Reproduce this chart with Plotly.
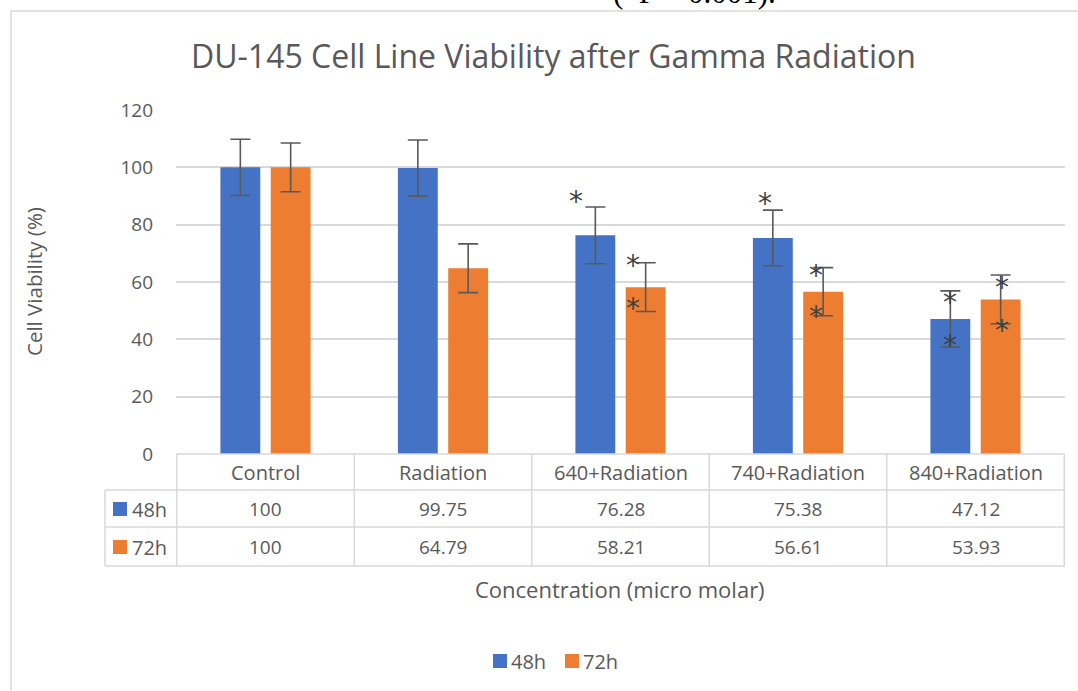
import plotly.graph_objects as go

# ---------------- data ----------------
categories = ["Control", "Radiation", "640+Radiation", "740+Radiation", "840+Radiation"]
series_names = ["48h", "72h"]
viability_48h = [100, 99.75, 76.28, 75.38, 47.12]
viability_72h = [100, 64.79, 58.21, 56.61, 53.93]
error_48h = [9.8, 9.8, 9.9, 9.7, 9.8]
error_72h = [8.5, 8.5, 8.5, 8.4, 8.5]
# significance asterisks: y value (in %) of each asterisk, per category
stars_48h = [[], [], [91.0], [90.3], [55.8, 40.8]]
stars_72h = [[], [], [68.4, 53.4], [64.9, 50.9], [61.0, 46.0]]
y_ticks = [0, 20, 40, 60, 80, 100, 120]

# ---------------- style ----------------
BLUE = "#4472C4"
ORANGE = "#ED7D31"
GRAY_TXT = "#595959"
GRID = "#d9d9d9"
FONT = "Open Sans"

W, H = 1078, 691
L, R, T, B = 176, 1065, 110, 454
PW, PH = R - L, B - T


def pxx(px):
    return (px - L) / PW


def pxy(py):
    return (B - py) / PH


def note(x, y, text, size=19, color=GRAY_TXT, xref="paper", yref="paper", **kw):
    d = dict(x=x, y=y, xref=xref, yref=yref, text=text, showarrow=False,
             xanchor="center", yanchor="middle",
             font=dict(family=FONT, size=size, color=color))
    d.update(kw)
    return d


fig = go.Figure()
colors = [BLUE, ORANGE]
vals = [viability_48h, viability_72h]
errs = [error_48h, error_72h]
for name, v, e, c in zip(series_names, vals, errs, colors):
    fig.add_trace(go.Bar(
        x=categories, y=v, name=name, marker=dict(color=c, line=dict(width=0)),
        error_y=dict(type="data", array=e, visible=True, color="#595959",
                     thickness=1.6, width=10),
        showlegend=False,
    ))

annotations = []
shapes = []

# asterisks
slot_px = 50.5
star_dx = [[0, 0, -19, -7.5, 0], [0, 0, -13, -7, 1]]
for si, stars in enumerate([stars_48h, stars_72h]):
    for ci, ys in enumerate(stars):
        for yv in ys:
            a = note(categories[ci], yv, "*", xref="x", yref="y",
                     xshift=(-slot_px / 2 if si == 0 else slot_px / 2) + star_dx[si][ci],
                     yshift=-8)
            a["font"] = dict(family="DejaVu Sans", size=28, color="#404040")
            annotations.append(a)

# data table
row_lines = [454, 490, 527, 566]
for i, yl in enumerate(row_lines):
    x0 = L if i == 0 else 105
    shapes.append(dict(type="line", xref="paper", yref="paper", x0=pxx(x0), x1=pxx(R),
                       y0=pxy(yl), y1=pxy(yl), line=dict(color=GRID, width=1.5)))
shapes.append(dict(type="line", xref="paper", yref="paper", x0=pxx(105), x1=pxx(105),
                   y0=pxy(490), y1=pxy(566), line=dict(color=GRID, width=1.5)))
for k in range(len(categories) + 1):
    shapes.append(dict(type="line", xref="x", yref="paper", x0=k - 0.5, x1=k - 0.5,
                       y0=pxy(454), y1=pxy(566), line=dict(color=GRID, width=1.5)))

row_centers = [472, 509, 547]
for ci, cat in enumerate(categories):
    annotations.append(note(cat, pxy(row_centers[0]), cat, size=20, xref="x"))
    for si in range(2):
        annotations.append(note(cat, pxy(row_centers[si + 1]), f"{vals[si][ci]:g}", xref="x"))
for si in range(2):
    yc = row_centers[si + 1]
    shapes.append(dict(type="rect", xref="paper", yref="paper", x0=pxx(113), x1=pxx(127),
                       y0=pxy(yc - 7), y1=pxy(yc + 7), fillcolor=colors[si], line=dict(width=0)))
    annotations.append(note(pxx(130), pxy(yc), series_names[si], size=20, xanchor="left"))

# bottom legend
legend_sq = [493, 565]
for si in range(2):
    x0 = legend_sq[si]
    shapes.append(dict(type="rect", xref="paper", yref="paper", x0=pxx(x0), x1=pxx(x0 + 14),
                       y0=pxy(661 - 7), y1=pxy(661 + 7), fillcolor=colors[si], line=dict(width=0)))
    annotations.append(note(pxx(x0 + 16), pxy(661), series_names[si], size=20, xanchor="left"))

# axis titles
annotations.append(note(pxx(34), pxy(282), "Cell Viability (%)", size=20.5, textangle=-90))
annotations.append(note(pxx(620), pxy(589), "Concentration (micro molar)", size=22))
# title
annotations.append(note(pxx(553), pxy(56), "DU-145 Cell Line Viability after Gamma Radiation", size=32))
# cut-off caption text above the chart frame
cap = note(pxx(778), pxy(12), "(*P < 0.001).", xanchor="right", yanchor="bottom")
cap["font"] = dict(family="Liberation Serif", size=31, color="#000000")
annotations.append(cap)

# chart frame
shapes.append(dict(type="rect", xref="paper", yref="paper", x0=pxx(11), x1=pxx(1100),
                   y0=pxy(11), y1=pxy(720), line=dict(color=GRID, width=1.5), layer="below"))

fig.update_layout(
    width=W, height=H,
    margin=dict(l=L, r=W - R, t=T, b=H - B, pad=0),
    paper_bgcolor="white", plot_bgcolor="white",
    barmode="group", bargap=0.433, bargroupgap=0.208,
    showlegend=False,
    xaxis=dict(showticklabels=False, showgrid=False, zeroline=False, showline=False, ticks=""),
    yaxis=dict(range=[0, 120], tickvals=y_ticks, showgrid=True, gridcolor=GRID, gridwidth=1.5,
               zeroline=False, showline=False, ticks="", ticklabelstandoff=22,
               tickfont=dict(family=FONT, size=19, color=GRAY_TXT)),
    annotations=annotations, shapes=shapes,
)

fig.write_html("out.html", config={"displayModeBar": False},
               post_script="document.body.style.margin='0';")
